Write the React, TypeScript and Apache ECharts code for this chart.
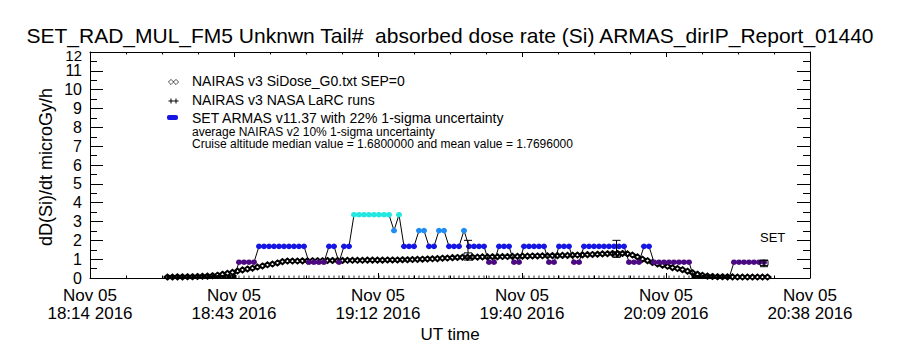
import React, { useEffect, useRef } from "react";
import * as echarts from "echarts";

// ---------- texts ----------
const TITLE = "SET_RAD_MUL_FM5 Unknwn Tail#  absorbed dose rate (Si) ARMAS_dirIP_Report_01440";
const Y_NAME = "dD(Si)/dt microGy/h";
const X_NAME = "UT time";
const SET_LABEL = "SET";
const X_TICK_DATE = "Nov 05";
const X_TICK_TIMES = ["18:14", "18:43", "19:12", "19:40", "20:09", "20:38"];
const X_TICK_YEAR = "2016";
const MEDIAN_VALUE = "1.6800000";
const MEAN_VALUE = "1.7696000";
const LEGEND_LINES = [
  "NAIRAS v3 SiDose_G0.txt SEP=0",
  "NAIRAS v3 NASA LaRC runs",
  "SET ARMAS v11.37 with 22% 1-sigma uncertainty",
  "average NAIRAS v2 10% 1-sigma uncertainty",
  `Cruise altitude median value = ${MEDIAN_VALUE} and mean value = ${MEAN_VALUE}`,
];

// ---------- axes (x in minutes after 18:14 UT) ----------
const X_MIN = 0;
const X_MAX = 144;
const X_INTERVAL = 28.8;
const Y_MIN = 0;
const Y_MAX = 12;
const Y_INTERVAL = 1;

// ---------- NAIRAS v3 SiDose (one sample per minute) ----------
const NAIRAS_START = 15.5;
const NAIRAS_STEP = 1;
const nairasDose = [
  0.05, 0.05, 0.06, 0.06, 0.07, 0.07, 0.08, 0.09, 0.10, 0.12,
  0.15, 0.20, 0.25, 0.30, 0.37, 0.43, 0.48, 0.52, 0.58, 0.64, 0.70, 0.74, 0.80, 0.87, 0.90,
  0.90, 0.90, 0.91, 0.91, 0.92, 0.92, 0.92, 0.93, 0.93, 0.93, 0.93, 0.94, 0.94, 0.94, 0.94, 0.95,
  0.95, 0.95, 0.95, 0.96, 0.96, 0.96, 0.97, 0.97, 0.98, 0.99,
  1.00, 1.01, 1.02, 1.03, 1.05, 1.06, 1.08, 1.09,
  1.10, 1.10, 1.11, 1.11, 1.12, 1.12, 1.13, 1.13, 1.14, 1.14, 1.15, 1.15, 1.16, 1.16, 1.17, 1.17, 1.18,
  1.18, 1.19, 1.19, 1.20, 1.20, 1.21, 1.22, 1.23, 1.24, 1.25, 1.26,
  1.28, 1.29, 1.30, 1.30, 1.30, 1.28,
  1.22, 1.12, 1.00, 0.92, 0.82, 0.74, 0.68, 0.62, 0.55, 0.50, 0.44, 0.36, 0.28, 0.20, 0.14, 0.10,
  0.08, 0.07, 0.07, 0.06, 0.06, 0.05, 0.05, 0.05, 0.05, 0.05, 0.05, 0.05,
];

// ---------- SET ARMAS (one sample per minute) ----------
const ARMAS_START = 15.8;
const ARMAS_STEP = 1;
const armasDose = [
  0, 0, 0, 0, 0, 0, 0, 0, 0, 0, 0, 0, 0, 0,
  0.84, 0.84, 0.84, 0.84,
  1.68, 1.68, 1.68, 1.68, 1.68, 1.68, 1.68, 1.68, 1.68, 1.68,
  0.84, 0.84, 0.84, 0.84,
  1.68, 1.68,
  0.84,
  1.68, 1.68,
  3.36, 3.36, 3.36, 3.36, 3.36, 3.36, 3.36, 3.36,
  2.52,
  3.36,
  1.68, 1.68, 1.68,
  2.52, 2.52,
  1.68, 1.68,
  2.52, 2.52,
  1.68, 1.68, 1.68,
  2.52,
  1.68, 1.68, 1.68, 1.68,
  0.84, 0.84,
  1.68, 1.68, 1.68,
  0.84, 0.84,
  1.68, 1.68, 1.68, 1.68, 1.68,
  0.84, 0.84,
  1.68, 1.68, 1.68,
  0.84, 0.84,
  1.68, 1.68, 1.68, 1.68, 1.68, 1.68, 1.68, 1.68, 1.68,
  0.84, 0.84, 0.84,
  1.68, 1.68,
  0.84, 0.84, 0.84, 0.84, 0.84, 0.84, 0.84, 0.84,
  0, 0, 0, 0, 0, 0, 0, 0,
  0.84, 0.84, 0.84, 0.84, 0.84, 0.84, 0.84,
];

// ---------- NAIRAS v3 NASA LaRC runs ----------
const larcTimes = [75.6, 105.3, 134.8];
const larcDose = [1.2, 1.25, 0.8];
const larcLow = [0.95, 1.1, 0.6];
const larcHigh = [2.0, 2.0, 0.95];

// ---------- styles ----------
const FONT = "'Liberation Sans', Arial, Helvetica, sans-serif";
const C_PURPLE = "#4b0a82";
const C_BLUE = "#1616e4";
const C_LIGHTBLUE = "#1e8cf5";
const C_CYAN = "#22e8e0";

function levelColor(v: number): string {
  if (v >= 3) return C_CYAN;
  if (v >= 2.2) return C_LIGHTBLUE;
  if (v >= 1.3) return C_BLUE;
  if (v >= 0.5) return C_PURPLE;
  return "#000";
}

function txt(x: number, y: number, text: string, size: number, align = "left", extra: any = {}) {
  return {
    type: "text",
    x,
    y,
    z: 100,
    ...extra,
    style: {
      text,
      fontSize: size,
      fontFamily: FONT,
      fill: "#000",
      textAlign: align,
      align,
      textVerticalAlign: "middle",
      verticalAlign: "middle",
    },
  };
}

function diamond(cx: number, cy: number) {
  return {
    type: "polygon",
    z: 100,
    shape: { points: [[cx - 2.6, cy], [cx, cy - 2.6], [cx + 2.6, cy], [cx, cy + 2.6]] },
    style: { fill: "#fff", stroke: "#000", lineWidth: 0.7 },
  };
}

function plus(cx: number, cy: number) {
  return {
    type: "group",
    z: 100,
    children: [
      { type: "line", shape: { x1: cx - 2.5, y1: cy, x2: cx + 2.5, y2: cy }, style: { stroke: "#000", lineWidth: 1 } },
      { type: "line", shape: { x1: cx, y1: cy - 2.5, x2: cx, y2: cy + 2.5 }, style: { stroke: "#000", lineWidth: 1 } },
    ],
  };
}

function xLabel(v: number): string {
  const idx = Math.round((v - X_MIN) / X_INTERVAL);
  const t = X_TICK_TIMES[idx];
  if (t === undefined) return "";
  return `${X_TICK_DATE}\n${t} ${X_TICK_YEAR}`;
}

export default function App() {
  const ref = useRef<HTMLDivElement>(null);

  useEffect(() => {
    if (!ref.current) return;
    const chart = echarts.init(ref.current, undefined, { renderer: "svg" });

    const nairasData = nairasDose.map((v, i) => [NAIRAS_START + i * NAIRAS_STEP, v]);
    const armasTimes = armasDose.map((_, i) => ARMAS_START + i * ARMAS_STEP);
    const armasData = armasDose.map((v, i) => ({
      value: [armasTimes[i], v],
      symbol: v === 0 ? "rect" : "circle",
      symbolSize: v === 0 ? [5, 3] : [6, 5.5],
      symbolOffset: v === 0 ? [0, -1.5] : [0, 0],
      itemStyle: { color: levelColor(v), borderWidth: 0 },
    }));
    const tickData = armasTimes.map((t) => [t, 0]);
    const larcData = larcTimes.map((t, i) => [t, larcDose[i], larcLow[i], larcHigh[i]]);

    const axisCommonX = {
      type: "value",
      min: X_MIN,
      max: X_MAX,
      interval: X_INTERVAL,
      axisLine: { show: true, onZero: false, lineStyle: { color: "#000", width: 1 } },
      axisTick: { show: true, inside: true, length: 5, lineStyle: { color: "#000", width: 1 } },
      minorTick: { show: true, splitNumber: 4, length: 2.5, lineStyle: { color: "#000", width: 1 } },
      splitLine: { show: false },
      minorSplitLine: { show: false },
    };
    const axisCommonY = {
      type: "value",
      min: Y_MIN,
      max: Y_MAX,
      interval: Y_INTERVAL,
      axisLine: { show: true, onZero: false, lineStyle: { color: "#000", width: 1 } },
      axisTick: { show: true, inside: true, length: 13, lineStyle: { color: "#000", width: 1 } },
      minorTick: { show: true, splitNumber: 2, length: 7, lineStyle: { color: "#000", width: 1 } },
      splitLine: { show: false },
      minorSplitLine: { show: false },
    };

    const option: any = {
      animation: false,
      backgroundColor: "#fff",
      grid: { left: 90, top: 52, width: 720, height: 226, containLabel: false },
      xAxis: [
        {
          ...axisCommonX,
          position: "bottom",
          axisLabel: {
            show: true,
            formatter: xLabel,
            fontSize: 17,
            lineHeight: 18,
            fontFamily: FONT,
            color: "#000",
            margin: 8,
            showMinLabel: true,
            showMaxLabel: true,
            hideOverlap: false,
          },
        },
        { ...axisCommonX, position: "top", axisLabel: { show: false } },
      ],
      yAxis: [
        {
          ...axisCommonY,
          position: "left",
          axisLabel: {
            show: true,
            fontSize: 16,
            lineHeight: 16,
            fontFamily: FONT,
            color: "#000",
            margin: 8,
            showMinLabel: true,
            // the top label (12) sits a few pixels lower, below the title; drawn separately
            showMaxLabel: false,
            hideOverlap: false,
          },
        },
        { ...axisCommonY, position: "right", axisLabel: { show: false } },
      ],
      series: [
        {
          name: "bottom ticks",
          type: "scatter",
          data: tickData,
          symbol: "rect",
          symbolSize: [1, 2.5],
          symbolOffset: [0, -1.25],
          itemStyle: { color: "#000" },
          z: 1,
          silent: true,
        },
        {
          name: LEGEND_LINES[0],
          type: "line",
          data: nairasData,
          symbol: "emptyDiamond",
          symbolSize: [6, 5],
          showAllSymbol: true,
          itemStyle: { color: "#000", borderWidth: 0.6 },
          lineStyle: { color: "#000", width: 0.7 },
          z: 2,
          silent: true,
        },
        {
          name: LEGEND_LINES[2],
          type: "line",
          data: armasData,
          showAllSymbol: true,
          lineStyle: { color: "#000", width: 1 },
          z: 3,
          silent: true,
        },
        {
          name: LEGEND_LINES[1],
          type: "custom",
          data: larcData,
          z: 4,
          silent: true,
          encode: { x: 0, y: 1 },
          renderItem: (params: any, api: any) => {
            const t = api.value(0);
            const pv = api.coord([t, api.value(1)]);
            const pl = api.coord([t, api.value(2)]);
            const ph = api.coord([t, api.value(3)]);
            const st = { stroke: "#000", lineWidth: 1, fill: null };
            return {
              type: "group",
              children: [
                { type: "line", shape: { x1: pl[0], y1: pl[1], x2: ph[0], y2: ph[1] }, style: st },
                { type: "line", shape: { x1: ph[0] - 4, y1: ph[1], x2: ph[0] + 4, y2: ph[1] }, style: st },
                { type: "line", shape: { x1: pl[0] - 4, y1: pl[1], x2: pl[0] + 4, y2: pl[1] }, style: st },
                { type: "rect", shape: { x: pv[0] - 4, y: pv[1] - 2.5, width: 8, height: 5 }, style: { stroke: "#000", lineWidth: 1, fill: "none" } },
              ],
            };
          },
        },
      ],
      graphic: [
        txt(450, 35, TITLE, 21, "center"),
        txt(82, 55, String(Y_MAX), 15, "right"),
        txt(46, 167, Y_NAME, 18, "center", { rotation: Math.PI / 2 }),
        txt(450, 334, X_NAME, 17, "center"),
        txt(760, 237, SET_LABEL, 13, "left"),
        diamond(171, 82),
        diamond(176, 82),
        plus(171, 101),
        plus(176, 101),
        {
          type: "rect",
          z: 100,
          shape: { x: 167, y: 115, width: 11, height: 5, r: 2 },
          style: { fill: C_BLUE },
        },
        txt(192, 81, LEGEND_LINES[0], 14),
        txt(192, 99.5, LEGEND_LINES[1], 14),
        txt(192, 118, LEGEND_LINES[2], 14),
        txt(192, 131.5, LEGEND_LINES[3], 12),
        txt(192, 144, LEGEND_LINES[4], 12),
      ],
    };

    chart.setOption(option);
    return () => chart.dispose();
  }, []);

  return (
    <div
      ref={ref}
      style={{ position: "absolute", left: 0, top: 0, width: 900, height: 350, background: "#fff" }}
    />
  );
}
